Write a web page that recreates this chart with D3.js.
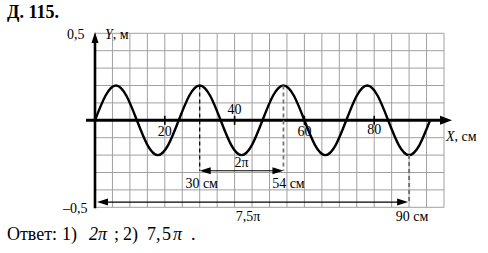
<!DOCTYPE html>
<html><head><meta charset="utf-8">
<script src="https://cdn.jsdelivr.net/npm/d3@7"></script>
<style>
body{margin:0;background:#fff;}
svg{display:block;font-family:"Liberation Serif","Times New Roman",serif;}
</style></head>
<body><svg id="c" width="488" height="253"></svg>
<script>
// ---- data ----
const xDomain = [0, 100];          // cm
const yDomain = [-0.5, 0.5];       // m
const gridStepX = 5;               // cm per cell
const gridStepY = 0.1;             // m per cell
const xTickValues = [20, 40, 60, 80];
const xTickLabels = ["20", "40", "60", "80"];
const yTickLabels = ["0,5", "–0,5"];
const waveX = [0,3,6,9,12,15,18,21,24,27,30,33,36,39,42,45,48,51,54,57,60,63,66,69,72,75,78,81,84,87,90,93,96];
const waveY = [0,0.141,0.2,0.141,0,-0.141,-0.2,-0.141,0,0.141,0.2,0.141,0,-0.141,-0.2,-0.141,0,0.141,0.2,0.141,0,-0.141,-0.2,-0.141,0,0.141,0.2,0.141,0,-0.141,-0.2,-0.141,0];
const markX = [30, 54, 90];        // cm marks
const markFrom = [0.2, 0.2, -0.2];
const markLabels = ["30 см", "54 см", "90 см"];
const spanLabels = ["2π", "7,5π"];
const answerParts = ["Ответ:", "1)", "2π", ";", "2)", "7,", "5", "π", "."];

const svg = d3.select("#c");
const x = d3.scaleLinear().domain(xDomain).range([95, 444]);
const y = d3.scaleLinear().domain(yDomain).range([207.3, 33.3]);

// grid
const gx = d3.range(xDomain[0], xDomain[1] + 0.001, gridStepX);
const gy = d3.range(0, 11).map(i => yDomain[0] + i * gridStepY);
svg.append("g").selectAll("line").data(gx).join("line")
  .attr("x1", d => x(d)).attr("x2", d => x(d))
  .attr("y1", y(yDomain[0])).attr("y2", y(yDomain[1]))
  .attr("stroke", "#a0a0a0").attr("stroke-width", 1);
svg.append("g").selectAll("line").data(gy).join("line")
  .attr("x1", x(0)).attr("x2", x(100))
  .attr("y1", d => y(d)).attr("y2", d => y(d))
  .attr("stroke", "#a0a0a0").attr("stroke-width", 1);

// axes
svg.append("line").attr("x1", x(0) - 9).attr("x2", 446).attr("y1", y(0)).attr("y2", y(0))
  .attr("stroke", "#000").attr("stroke-width", 3);
svg.append("path").attr("d", `M452,${y(0)} L440,${y(0)-4.5} L440,${y(0)+4.5} Z`).attr("fill", "#000");
svg.append("line").attr("x1", x(0)).attr("x2", x(0)).attr("y1", 40).attr("y2", y(-0.5) + 1)
  .attr("stroke", "#000").attr("stroke-width", 2.6);
svg.append("path").attr("d", `M${x(0)},32 L${x(0)-3.5},43 L${x(0)+3.5},43 Z`).attr("fill", "#000");

// x ticks
svg.append("g").selectAll("line").data(xTickValues).join("line")
  .attr("x1", d => x(d)).attr("x2", d => x(d))
  .attr("y1", y(0) - 4.5).attr("y2", y(0) + 4.5)
  .attr("stroke", "#000").attr("stroke-width", 1.6);
const tickPos = [{dx: 0, y: 136}, {dx: 0, y: 114}, {dx: 0, y: 136}, {dx: 0, y: 134}];
svg.append("g").selectAll("text").data(xTickValues).join("text")
  .attr("x", (d, i) => x(d) + tickPos[i].dx).attr("y", (d, i) => tickPos[i].y)
  .attr("text-anchor", "middle").attr("font-size", 14).text((d, i) => xTickLabels[i]);

// axis labels
svg.append("text").attr("x", 67).attr("y", 38.5).attr("font-size", 14).text(yTickLabels[0]);
svg.append("text").attr("x", 63).attr("y", 213).attr("font-size", 14).text(yTickLabels[1]);
const yl = svg.append("text").attr("x", 105).attr("y", 38.5).attr("font-size", 14);
yl.append("tspan").attr("font-style", "italic").text("Y");
yl.append("tspan").text(", м");
const xl = svg.append("text").attr("x", 446).attr("y", 141).attr("font-size", 14);
xl.append("tspan").attr("font-style", "italic").text("X");
xl.append("tspan").text(", см");

// wave
const line = d3.line().x((d, i) => x(waveX[i])).y(d => y(d)).curve(d3.curveNatural);
svg.append("path").datum(waveY).attr("d", line)
  .attr("fill", "none").attr("stroke", "#000").attr("stroke-width", 2.4);

// dashed marks
const markTo = [-0.29, -0.29, -0.47];
const markColor = ["#000", "#777", "#777"];
const markW = [1.2, 1.8, 2];
svg.append("g").selectAll("line").data(markX).join("line")
  .attr("x1", d => x(d)).attr("x2", d => x(d))
  .attr("y1", (d, i) => y(markFrom[i])).attr("y2", (d, i) => y(markTo[i]))
  .attr("stroke", (d, i) => markColor[i]).attr("stroke-width", (d, i) => markW[i])
  .attr("stroke-dasharray", "4,3");

// double arrows
function dblArrow(x1, x2, yy) {
  svg.append("line").attr("x1", x1 + 6).attr("x2", x2 - 6).attr("y1", yy).attr("y2", yy)
    .attr("stroke", "#000").attr("stroke-width", 1.2);
  svg.append("path").attr("d", `M${x1},${yy} L${x1+11},${yy-3.5} L${x1+11},${yy+3.5} Z`).attr("fill", "#000");
  svg.append("path").attr("d", `M${x2},${yy} L${x2-11},${yy-3.5} L${x2-11},${yy+3.5} Z`).attr("fill", "#000");
}
dblArrow(x(markX[0]), x(markX[1]), y(-0.29));
dblArrow(x(0) + 2, x(markX[2]) - 1, y(-0.47));

// mark labels
const mlY = [188, 188, 221];
const mlDx = [2, 5, 3];
svg.append("g").selectAll("text").data(markX).join("text")
  .attr("x", (d, i) => x(d) + mlDx[i]).attr("y", (d, i) => mlY[i])
  .attr("text-anchor", "middle").attr("font-size", 14).text((d, i) => markLabels[i]);
svg.append("text").attr("x", x((markX[0] + markX[1]) / 2)).attr("y", 167)
  .attr("text-anchor", "middle").attr("font-size", 14).text(spanLabels[0]);
svg.append("text").attr("x", 248).attr("y", 221)
  .attr("text-anchor", "middle").attr("font-size", 14).text(spanLabels[1]);

// title and answer
svg.append("text").attr("x", 7).attr("y", 17.5).attr("font-size", 18).attr("font-weight", "bold").text("Д. 115.");
const ansX = [7, 62, 89, 114, 123, 147, 162, 173, 191];
const ansItalic = [false, false, true, false, false, false, false, true, false];
svg.append("g").selectAll("text").data(answerParts).join("text")
  .attr("x", (d, i) => ansX[i]).attr("y", 240).attr("font-size", 18)
  .attr("font-style", (d, i) => ansItalic[i] ? "italic" : "normal")
  .text(d => d);
</script></body></html>
